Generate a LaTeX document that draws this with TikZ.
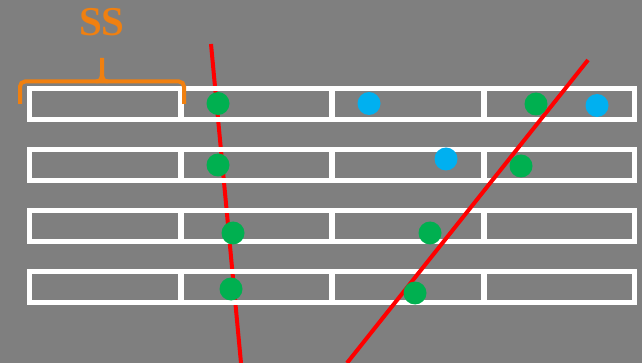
\documentclass[tikz,border=0pt]{standalone}
\usepackage{fontspec}
\setmainfont{Liberation Serif}
\definecolor{bg}{RGB}{127,127,127}
\definecolor{dotgreen}{RGB}{0,176,80}
\definecolor{dotblue}{RGB}{0,176,240}
\definecolor{ssorange}{RGB}{240,128,16}
\tikzset{
  cellrow/.style={draw=white, line width=5.5pt},
  divider/.style={draw=white, line width=5.5pt},
  redline/.style={draw=red, line width=4pt},
  gdot/.style={circle, fill=dotgreen, inner sep=0pt, minimum size=23pt},
  bdot/.style={circle, fill=dotblue, inner sep=0pt, minimum size=23pt},
  bracepath/.style={draw=ssorange, line width=4pt, rounded corners=5pt},
}
\begin{document}
\begin{tikzpicture}[x=1pt,y=-1pt]
\fill[bg] (0,0) rectangle (642,363);
\useasboundingbox (0,0) rectangle (642,363);
% left red line (behind the bars)
\coordinate (l1a) at (211,44);
\coordinate (l1b) at (241,363);
\draw[redline] (l1a) -- (l1b);
% bars
\foreach \i in {0,1,2,3}{
  \pgfmathsetmacro{\yt}{88.5+61*\i}
  \pgfmathsetmacro{\yb}{\yt+31}
  \draw[cellrow] (29.5,\yt) rectangle (634.5,\yb);
  \foreach \x in {181,332,484}{
    \draw[divider] (\x,\yt) -- (\x,\yb);
  }
}
% right red line (over the bars)
\coordinate (l2a) at (588,60);
\coordinate (l2b) at (347,363);
\draw[redline] (l2a) -- (l2b);
% dots
\node[gdot] (g1) at (218,103.5) {};
\node[gdot] (g2) at (218,165) {};
\node[gdot] (g3) at (233,233) {};
\node[gdot] (g4) at (231,289) {};
\node[gdot] (g5) at (536,104) {};
\node[gdot] (g6) at (521,166) {};
\node[gdot] (g7) at (430,233) {};
\node[gdot] (g8) at (415,293) {};
\node[bdot] (b1) at (369,103.5) {};
\node[bdot] (b2) at (597,105.5) {};
\node[bdot] (b3) at (446,159) {};
% brace
\draw[bracepath] (20,104) -- (20,81.5) -- (102,81.5);
\draw[bracepath] (184,104) -- (184,81.5) -- (102,81.5);
\draw[draw=ssorange, line width=4pt] (96,81.5) .. controls (101,81.5) and (102,78) .. (102,72) -- (102,58);
\draw[draw=ssorange, line width=4pt] (108,81.5) .. controls (103,81.5) and (102,78) .. (102,72);
\node[text=ssorange, font=\fontsize{41}{41}\selectfont\bfseries, inner sep=0pt] (ss) at (102,22.5) {SS};
\end{tikzpicture}
\end{document}
